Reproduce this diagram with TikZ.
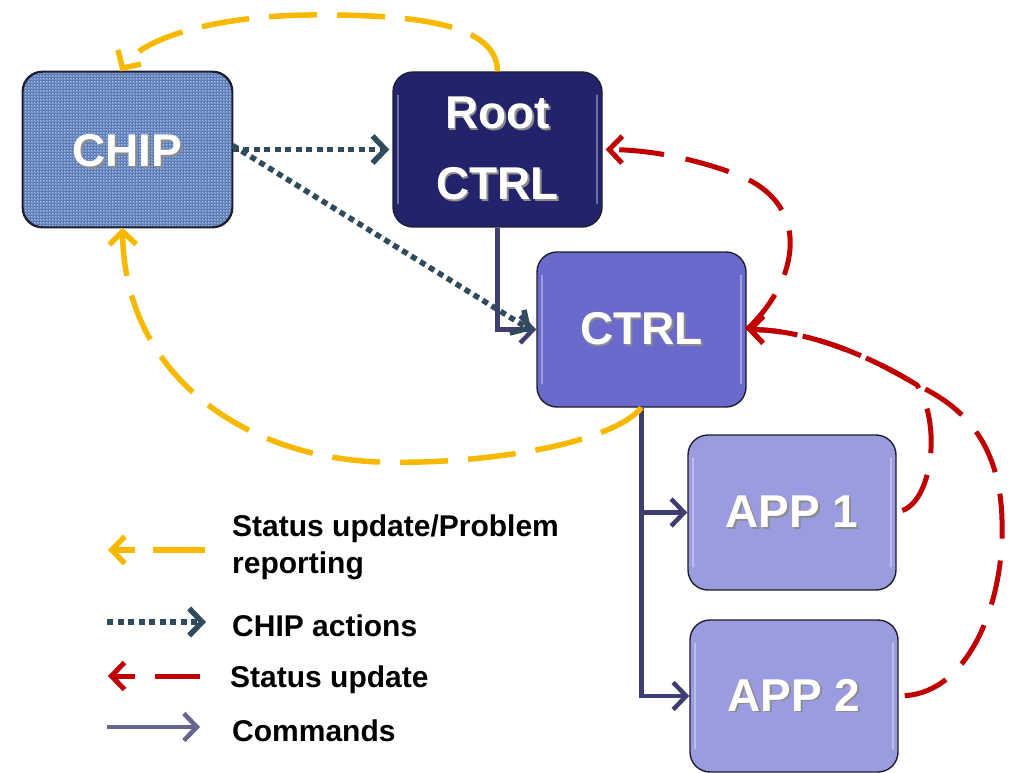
\documentclass[tikz,border=0pt]{standalone}
\usepackage{fontspec}
\setmainfont{Liberation Sans}
\usetikzlibrary{arrows.meta,patterns}

\definecolor{chipblue}{HTML}{7595CC}
\definecolor{chipweave}{HTML}{B4C8EC}
\definecolor{chipthread}{HTML}{5676B0}
\definecolor{rootnavy}{HTML}{23236C}
\definecolor{ctrlblue}{HTML}{6A6ACD}
\definecolor{appblue}{HTML}{9B9BE0}
\definecolor{cmdline}{HTML}{3E3E72}
\definecolor{chipline}{HTML}{2F4B5C}
\definecolor{statyellow}{HTML}{F6B900}
\definecolor{statred}{HTML}{C00000}
\definecolor{boxedge}{HTML}{1E1E2E}

% white label with a soft drop shadow
\newcommand{\boxlabel}[1]{\makebox[0pt][l]{\hspace{1.8pt}\raisebox{-1.8pt}{\textcolor{black!45}{#1}}}\textcolor{white}{#1}}

\tikzset{
  unitbox/.style={draw=boxedge, line width=1.4pt, rounded corners=20pt,
    minimum width=209pt, minimum height=155pt, inner sep=0pt,
    font=\fontsize{46}{52}\selectfont\bfseries, align=center},
  gloss/.style={line width=2pt, line cap=round, draw=white, opacity=0.35},
  barb/.style={-{Straight Barb[length=13pt,width=27pt]}},
  cmdarrow/.style={barb, draw=cmdline, line width=4.5pt},
  chiparrow/.style={barb, draw=chipline, line width=5.5pt, dash pattern=on 6pt off 4.5pt},
  yellowarrow/.style={barb, draw=statyellow, line width=5.5pt, dash pattern=on 48pt off 20pt},
  redarrow/.style={barb, draw=statred, line width=5pt, dash pattern=on 45pt off 22pt},
  legendtext/.style={anchor=west, inner sep=0pt, font=\fontsize{30}{37}\selectfont\bfseries, align=left}
}

\begin{document}
\begin{tikzpicture}[x=1pt, y=-1pt]
\useasboundingbox (0,0) rectangle (1013,773);

% units
\node[unitbox, fill=chipblue] (chip) at (127.5,149.5) {};
\fill[pattern=grid, pattern color=chipthread, rounded corners=20pt]
  ([shift={(1.5,-1.5)}]chip.south west) rectangle ([shift={(-1.5,1.5)}]chip.north east);
\fill[pattern=crosshatch dots, pattern color=chipweave, rounded corners=20pt]
  ([shift={(1.5,-1.5)}]chip.south west) rectangle ([shift={(-1.5,1.5)}]chip.north east);
\draw[boxedge, line width=1.4pt, rounded corners=20pt] (chip.south west) rectangle (chip.north east);
\node[inner sep=0pt, font=\fontsize{46}{52}\selectfont\bfseries] (chiplabel) at ([yshift=-2pt]chip.center) {\boxlabel{CHIP}};

\node[unitbox, fill=rootnavy] (root) at (497.5,149.5) {\boxlabel{Root}\\[19pt]\boxlabel{CTRL}};
\node[unitbox, fill=ctrlblue] (ctrl) at (641.5,329.5) {\boxlabel{CTRL}};
\node[unitbox, fill=appblue, minimum width=208pt] (app1) at (792,512.5) {\boxlabel{APP 1}};
\node[unitbox, fill=appblue, minimum width=208pt, minimum height=152pt] (app2) at (794,696) {\boxlabel{APP 2}};

% gel highlights along the inner side edges
\foreach \b in {root,ctrl,app1,app2}{
  \draw[gloss] ([shift={(6,24)}]\b.north west) -- ([shift={(6,-24)}]\b.south west);
  \draw[gloss] ([shift={(-6,24)}]\b.north east) -- ([shift={(-6,-24)}]\b.south east);
}

% commands
\draw[cmdarrow] (root.south) |- (ctrl.west);
\draw[cmdarrow] (ctrl.south) |- (app1.west);
\draw[cmdarrow] (ctrl.south) |- (app2.west);

% chip actions
\draw[chiparrow] (chip.east) -- ([xshift=-3pt]root.west);
\draw[chiparrow, shorten >=6pt] ([yshift=4pt]chip.east) -- ([yshift=-4pt]ctrl.west);

% status update / problem reporting
\draw[yellowarrow] (root.north) .. controls (497,25) and (420,14) .. (310,15)
  .. controls (210,16) and (140,40) .. ([xshift=-7pt]chip.north);
\draw[yellowarrow] (ctrl.south) .. controls (610,445) and (480,465) .. (380,462)
  .. controls (250,458) and (125,380) .. ([xshift=-5pt]chip.south);

% status updates
\draw[redarrow] (ctrl.east) .. controls (800,280) and (815,200) .. (730,172)
  .. controls (690,158) and (650,150) .. ([xshift=3pt]root.east);
\draw[redarrow, shorten <=6pt] (app1.east) .. controls (932,500) and (942,425) .. (917,385)
  .. controls (860,350) and (800,330) .. (ctrl.east);
\draw[redarrow, shorten <=6pt] (app2.east) .. controls (970,692) and (1005,600) .. (1002,520)
  .. controls (1000,440) and (960,405) .. (917,385)
  .. controls (860,350) and (800,330) .. (ctrl.east);

% legend
\coordinate (ly0) at (205,550); \coordinate (ly1) at (108,550);
\coordinate (lc0) at (107,622); \coordinate (lc1) at (206,622);
\coordinate (lr0) at (200,676); \coordinate (lr1) at (108,676);
\coordinate (lm0) at (107,727); \coordinate (lm1) at (200,727);
\draw[yellowarrow, dash pattern=on 52pt off 18pt] (ly0) -- (ly1);
\draw[chiparrow] (lc0) -- (lc1);
\draw[redarrow, dash pattern=on 45pt off 20pt] (lr0) -- (lr1);
\draw[cmdarrow, draw=cmdline!80!white] (lm0) -- (lm1);

\node[legendtext] (ltyellow) at (232,547) {Status update/Problem\\reporting};
\node[legendtext] (ltchip) at (232,626) {CHIP actions};
\node[legendtext] (ltred) at (230,680) {Status update};
\node[legendtext] (ltcmd) at (232,731) {Commands};
\end{tikzpicture}
\end{document}
